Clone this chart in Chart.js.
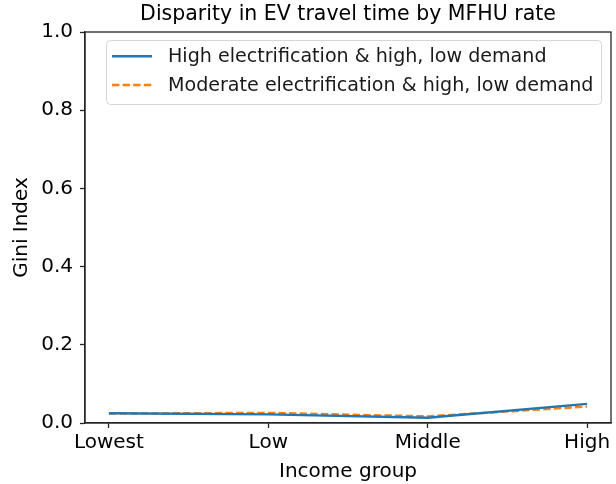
<!DOCTYPE html>
<html>
<head>
<meta charset="utf-8">
<script src="https://cdn.jsdelivr.net/npm/chart.js@4/dist/chart.umd.min.js"></script>
<style>
  html, body { margin: 0; padding: 0; background: #fff; }
  #wrap { width: 616px; height: 484px; }
</style>
</head>
<body>
<div id="wrap"><canvas id="chart" width="616" height="484"></canvas></div>
<script>
// income groups along the x axis
const incomeGroups = ["Lowest", "Low", "Middle", "High"];

// Gini index of EV travel time per scenario
const highElecValues = [0.025, 0.022, 0.0135, 0.049];
const moderateElecValues = [0.024, 0.026, 0.017, 0.042];

const seriesNames = [
  "High electrification & high, low demand",
  "Moderate electrification & high, low demand",
];

const yTicks = [0, 0.2, 0.4, 0.6, 0.8, 1.0];

const FONT = "'DejaVu Sans', sans-serif";
const AXIS_COLOR = "#262626";

function toPoints(values) {
  return values.map((v, i) => ({ x: i, y: v }));
}

// top/right spines like a boxed axes
const frame = {
  id: "frame",
  afterDraw(c) {
    const a = c.chartArea;
    const ctx = c.ctx;
    ctx.save();
    ctx.strokeStyle = AXIS_COLOR;
    ctx.lineWidth = 1.3;
    ctx.strokeRect(a.left, a.top, a.right - a.left, a.bottom - a.top);
    ctx.restore();
  },
};

// legend drawn inside the plot, upper right
const innerLegend = {
  id: "innerLegend",
  afterDraw(c) {
    const ctx = c.ctx;
    const x0 = 106.5, y0 = 40.5, w = 495, h = 64;
    ctx.save();
    ctx.beginPath();
    ctx.roundRect(x0, y0, w, h, 4);
    ctx.fillStyle = "rgba(255,255,255,0.8)";
    ctx.fill();
    ctx.strokeStyle = "#d6d6d6";
    ctx.lineWidth = 1;
    ctx.stroke();
    ctx.font = "19.1px " + FONT;
    ctx.textBaseline = "middle";
    c.data.datasets.forEach((ds, i) => {
      const y = 56.3 + i * 28.7;
      ctx.beginPath();
      ctx.setLineDash(ds.borderDash || []);
      ctx.strokeStyle = ds.borderColor;
      ctx.lineWidth = ds.borderWidth;
      ctx.moveTo(112, y);
      ctx.lineTo(152, y);
      ctx.stroke();
      ctx.setLineDash([]);
      ctx.fillStyle = "#1a1a1a";
      ctx.fillText(ds.label, 168, y + 1);
    });
    ctx.restore();
  },
};

new Chart(document.getElementById("chart"), {
  type: "line",
  data: {
    datasets: [
      {
        label: seriesNames[0],
        data: toPoints(highElecValues),
        borderColor: "#1f77b4",
        borderWidth: 2.4,
        pointRadius: 0,
        fill: false,
      },
      {
        label: seriesNames[1],
        data: toPoints(moderateElecValues),
        borderColor: "#ff7f0e",
        borderWidth: 2.4,
        borderDash: [7.4, 3.2],
        pointRadius: 0,
        fill: false,
      },
    ],
  },
  options: {
    responsive: false,
    animation: false,
    layout: { padding: { left: 0, right: 5, top: 0, bottom: 0 } },
    plugins: {
      legend: { display: false },
      tooltip: { enabled: false },
      title: {
        display: true,
        fullSize: false,
        text: "Disparity in EV travel time by MFHU rate",
        color: "#000",
        font: { family: FONT, size: 20.5, weight: "normal", lineHeight: 1.2 },
        padding: { top: 2, bottom: 5.4 },
      },
    },
    scales: {
      x: {
        type: "linear",
        min: -0.15,
        max: 3.15,
        afterBuildTicks: (s) => {
          s.ticks = incomeGroups.map((_, i) => ({ value: i }));
        },
        afterFit: (s) => { s.height = 61; },
        ticks: {
          color: "#000",
          font: { family: FONT, size: 20 },
          padding: 3,
          maxRotation: 0,
          callback: (v) => incomeGroups[v],
        },
        grid: { drawOnChartArea: false, drawTicks: true, tickLength: 5, tickWidth: 1.3, color: AXIS_COLOR },
        border: { display: true, color: AXIS_COLOR, width: 1.3 },
        title: {
          display: true,
          text: "Income group",
          color: "#000",
          font: { family: FONT, size: 20 },
          padding: { top: 0, bottom: 0 },
        },
      },
      y: {
        type: "linear",
        min: 0,
        max: 1,
        afterBuildTicks: (s) => {
          s.ticks = yTicks.map((v) => ({ value: v }));
        },
        afterFit: (s) => { s.width = 85; },
        ticks: {
          color: "#000",
          font: { family: FONT, size: 20 },
          padding: 7,
          callback: (v) => v.toFixed(1),
        },
        grid: { drawOnChartArea: false, drawTicks: true, tickLength: 5, tickWidth: 1.3, color: AXIS_COLOR },
        border: { display: true, color: AXIS_COLOR, width: 1.3 },
        title: {
          display: true,
          text: "Gini Index",
          color: "#000",
          font: { family: FONT, size: 20 },
          padding: { top: 10, bottom: 0 },
        },
      },
    },
  },
  plugins: [frame, innerLegend],
});
</script>
</body>
</html>
